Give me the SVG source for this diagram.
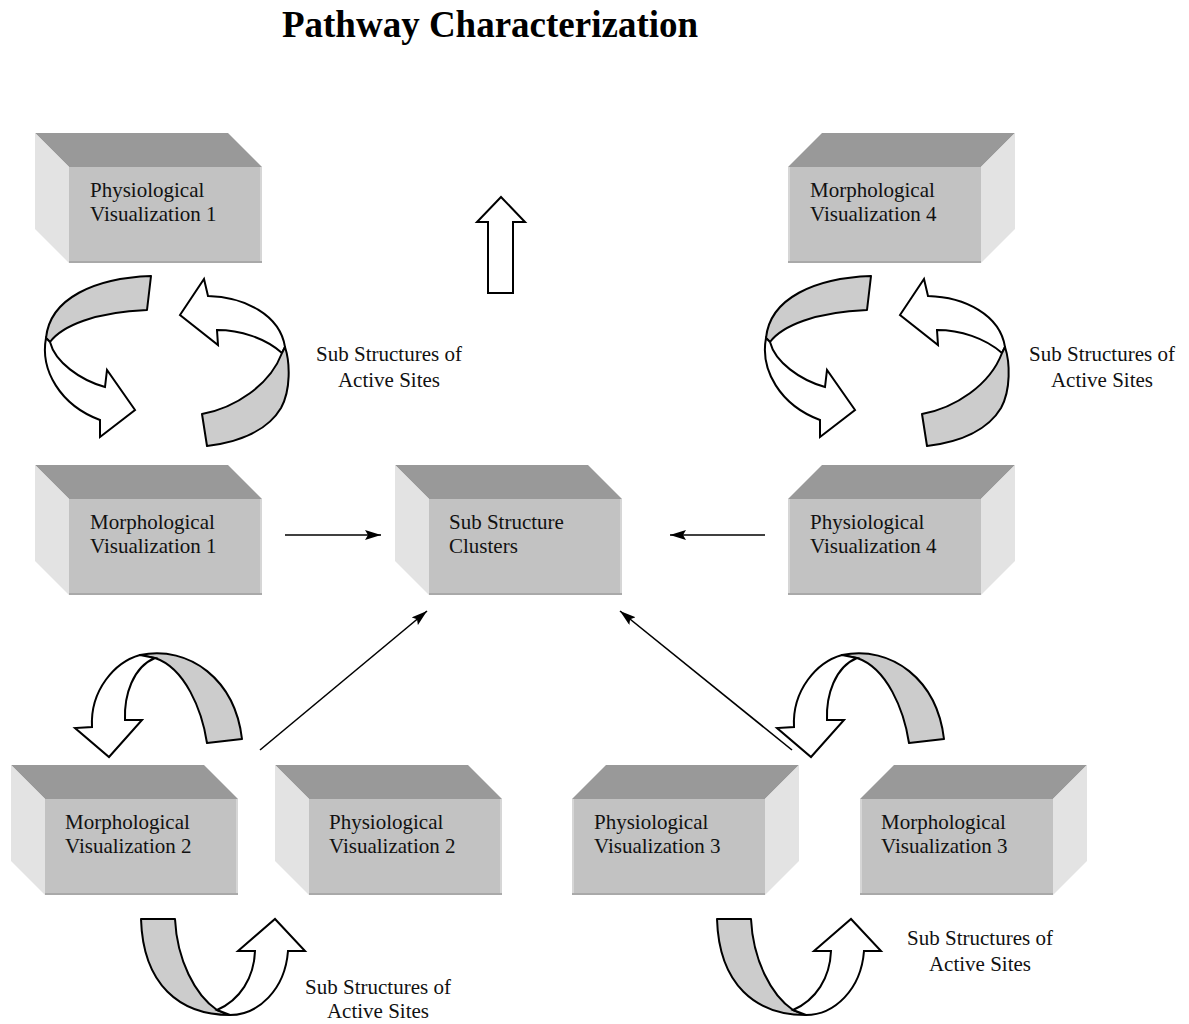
<svg xmlns="http://www.w3.org/2000/svg" xmlns:xlink="http://www.w3.org/1999/xlink" width="1189" height="1024" viewBox="0 0 1189 1024">
  <style>
    .top { fill: #999999; }
    .front { fill: #c2c2c2; }
    .side { fill: #e3e3e3; }
    .edge-lo { stroke: #a9a9a9; stroke-width: 2; }
    .edge-hi { stroke: #d6d6d6; stroke-width: 2; }
    .label { font-family: "Liberation Serif", "Times New Roman", serif; font-size: 21px; fill: #111; }
    .note { font-family: "Liberation Serif", "Times New Roman", serif; font-size: 21px; fill: #111; text-anchor: middle; }
    .title { font-family: "Liberation Serif", "Times New Roman", serif; font-size: 37px; font-weight: bold; fill: #000; text-anchor: middle; }
    .ribbon { fill: #cccccc; stroke: #000; stroke-width: 2; stroke-linejoin: round; }
    .blockarrow { fill: #ffffff; stroke: #000; stroke-width: 2; stroke-linejoin: miter; }
    .link { stroke: #000; stroke-width: 1.6; fill: none; marker-end: url(#head); }
  </style>
  <defs>
    <marker id="head" viewBox="0 0 16 10" refX="16" refY="5" markerWidth="16" markerHeight="10" markerUnits="userSpaceOnUse" orient="auto">
      <path d="M0,0 L16,5 L0,10 L3,5 Z" fill="#000"/>
    </marker>
    <!-- box with its side face on the left -->
    <g id="boxL">
      <polygon class="top" points="-34,-34 159,-34 193,0 0,0"/>
      <polygon class="side" points="-34,-34 0,0 0,96 -34,62"/>
      <rect class="front" x="0" y="0" width="193" height="96"/>
      <line class="edge-hi" x1="192" y1="0" x2="192" y2="96"/>
      <line class="edge-lo" x1="0" y1="95" x2="193" y2="95"/>
    </g>
    <!-- box with its side face on the right -->
    <g id="boxR">
      <polygon class="top" points="34,-34 227,-34 193,0 0,0"/>
      <polygon class="side" points="193,0 227,-34 227,62 193,96"/>
      <rect class="front" x="0" y="0" width="193" height="96"/>
      <line class="edge-hi" x1="1" y1="0" x2="1" y2="96"/>
      <line class="edge-lo" x1="0" y1="95" x2="193" y2="95"/>
    </g>
    <!-- pair of curling arrows around a ring -->
    <g id="ringPair">
      <path class="ribbon" d="M151,276 C95,278 50,298 46,338 L50,342 C62,326 95,312 147,310 Z"/>
      <path class="blockarrow" d="M46,338 C40,370 60,405 100,420 L100,437 L135,410 L107,370 L105,387 C80,380 55,362 50,342 Z"/>
      <path class="blockarrow" d="M180,315 L204,279 L208,296 C245,297 280,315 285,347 L282,353 C265,338 240,330 217,330 L218,345 Z"/>
      <path class="ribbon" d="M285,347 C290,362 291,390 281,408 C268,430 240,442 207,446 L202,414 C235,408 270,385 282,353 Z"/>
    </g>
    <!-- arch arrow curling down to the left -->
    <g id="arch">
      <path class="ribbon" d="M140,655 C190,645 235,680 242,739 L207,743 C202,710 185,668 155,658 Z"/>
      <path class="blockarrow" d="M140,655 C115,662 90,690 92,727 L75,728 L109,757 L142,720 L125,720 C124,695 133,667 155,658 Z"/>
    </g>
    <!-- U-turn arrow curling up to the right -->
    <g id="uturn">
      <path class="ribbon" d="M141,919 L175,919 C177,960 195,995 217,1010 L230,1015 C180,1015 143,985 141,919 Z"/>
      <path class="blockarrow" d="M217,1010 L230,1015 C258,1015 285,990 288,951 L305,951 L275,919 L238,951 L255,951 C254,978 240,1000 217,1010 Z"/>
    </g>
  </defs>

  <rect width="1189" height="1024" fill="#ffffff"/>

  <text class="title" x="490" y="37">Pathway Characterization</text>

  <!-- nodes -->
  <g id="physio1" transform="translate(69,167)">
    <use xlink:href="#boxL"/>
    <text class="label" x="21" y="30">Physiological</text>
    <text class="label" x="21" y="54">Visualization 1</text>
  </g>
  <g id="morpho4" transform="translate(788,167)">
    <use xlink:href="#boxR"/>
    <text class="label" x="22" y="30">Morphological</text>
    <text class="label" x="22" y="54">Visualization 4</text>
  </g>
  <g id="morpho1" transform="translate(69,499)">
    <use xlink:href="#boxL"/>
    <text class="label" x="21" y="30">Morphological</text>
    <text class="label" x="21" y="54">Visualization 1</text>
  </g>
  <g id="clusters" transform="translate(429,499)">
    <use xlink:href="#boxL"/>
    <text class="label" x="20" y="30">Sub Structure</text>
    <text class="label" x="20" y="54">Clusters</text>
  </g>
  <g id="physio4" transform="translate(788,499)">
    <use xlink:href="#boxR"/>
    <text class="label" x="22" y="30">Physiological</text>
    <text class="label" x="22" y="54">Visualization 4</text>
  </g>
  <g id="morpho2" transform="translate(45,799)">
    <use xlink:href="#boxL"/>
    <text class="label" x="20" y="30">Morphological</text>
    <text class="label" x="20" y="54">Visualization 2</text>
  </g>
  <g id="physio2" transform="translate(309,799)">
    <use xlink:href="#boxL"/>
    <text class="label" x="20" y="30">Physiological</text>
    <text class="label" x="20" y="54">Visualization 2</text>
  </g>
  <g id="physio3" transform="translate(572,799)">
    <use xlink:href="#boxR"/>
    <text class="label" x="22" y="30">Physiological</text>
    <text class="label" x="22" y="54">Visualization 3</text>
  </g>
  <g id="morpho3" transform="translate(860,799)">
    <use xlink:href="#boxR"/>
    <text class="label" x="21" y="30">Morphological</text>
    <text class="label" x="21" y="54">Visualization 3</text>
  </g>

  <!-- connectors -->
  <g id="connectors">
    <line class="link" x1="285" y1="535" x2="381" y2="535"/>
    <line class="link" x1="765" y1="535" x2="670" y2="535"/>
    <line class="link" x1="260" y1="750" x2="427" y2="611"/>
    <line class="link" x1="792" y1="750" x2="620" y2="611"/>
    <!-- hollow block arrow pointing up -->
    <path class="blockarrow" d="M488,293 L488,222 L477,222 L501,197 L525,222 L513,222 L513,293 Z"/>
    <!-- curling arrows -->
    <use xlink:href="#ringPair"/>
    <use xlink:href="#ringPair" transform="translate(720,0)"/>
    <use xlink:href="#arch"/>
    <use xlink:href="#arch" transform="translate(702,0)"/>
    <use xlink:href="#uturn"/>
    <use xlink:href="#uturn" transform="translate(576,0)"/>
  </g>

  <!-- annotations -->
  <text class="note" x="389" y="361">Sub Structures of</text>
  <text class="note" x="389" y="387">Active Sites</text>
  <text class="note" x="1102" y="361">Sub Structures of</text>
  <text class="note" x="1102" y="387">Active Sites</text>
  <text class="note" x="980" y="945">Sub Structures of</text>
  <text class="note" x="980" y="971">Active Sites</text>
  <text class="note" x="378" y="994">Sub Structures of</text>
  <text class="note" x="378" y="1018">Active Sites</text>
</svg>
